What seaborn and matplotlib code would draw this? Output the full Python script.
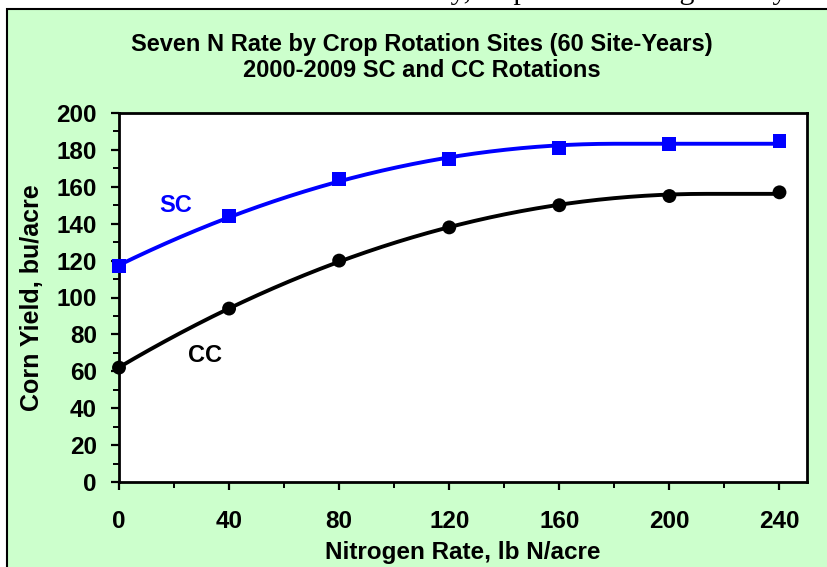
import numpy as np
import pandas as pd
import seaborn as sns
import matplotlib
matplotlib.use("Agg")
import matplotlib.pyplot as plt
from matplotlib.patches import Rectangle
from matplotlib.ticker import MultipleLocator

# ---- data ----
n_rate = [0, 40, 80, 120, 160, 200, 240]
sc_yield = [117, 144, 164, 175, 181, 183, 185]
cc_yield = [62, 94, 120, 138, 150, 155, 157]
series_names = ["SC", "CC"]
x_ticks = [0, 40, 80, 120, 160, 200, 240]
y_ticks = [0, 20, 40, 60, 80, 100, 120, 140, 160, 180, 200]
title_lines = ["Seven N Rate by Crop Rotation Sites (60 Site-Years)",
               "2000-2009 SC and CC Rotations"]
x_label = "Nitrogen Rate, lb N/acre"
y_label = "Corn Yield, bu/acre"
top_note = "Iowa State University, Department of Agronomy"


def quad_plateau_fit(x, y):
    x = np.asarray(x, float)
    y = np.asarray(y, float)
    best = None
    for x0 in np.arange(60, 250.5, 0.5):
        z = (x0 - np.minimum(x, x0)) ** 2
        A = np.column_stack([np.ones_like(z), -z])
        coef, *_ = np.linalg.lstsq(A, y, rcond=None)
        sse = np.sum((A @ coef - y) ** 2)
        if best is None or sse < best[0]:
            best = (sse, coef[0], coef[1], x0)
    _, P, k, x0 = best
    return lambda xx: P - k * (x0 - np.minimum(xx, x0)) ** 2


sns.set_theme(style="ticks")
plt.rcParams["font.family"] = ["Liberation Sans", "DejaVu Sans"]
plt.rcParams["font.weight"] = "bold"
for key in ["text.color", "axes.labelcolor", "xtick.color", "ytick.color",
            "axes.edgecolor"]:
    plt.rcParams[key] = "black"

fig = plt.figure(figsize=(8.28, 5.67), dpi=100)
fig.patch.set_facecolor("white")

W, H = 828, 567
# green panel with black border
fig.patches.append(Rectangle((7 / W, -0.05), 1.1, 1.05 - 9 / H,
                             transform=fig.transFigure, facecolor="#CCFFCC",
                             edgecolor="black", linewidth=1.5, zorder=-10))
fig.text(205 / W, 1 + 1.0 / H, top_note, ha="left", va="baseline",
         fontsize=21.5, family=["Liberation Serif", "DejaVu Serif"],
         fontweight="normal", color="black", zorder=-20)

ax = fig.add_axes([119 / W, 1 - 482 / H, 688 / W, 369 / H])
ax.set_zorder(5)
ax.set_facecolor("white")

df = pd.DataFrame({"N": n_rate * 2,
                   "Yield": sc_yield + cc_yield,
                   "Rotation": [series_names[0]] * len(n_rate) + [series_names[1]] * len(n_rate)})

xs = np.linspace(0, 240, 300)
curves = pd.DataFrame({
    "N": np.concatenate([xs, xs]),
    "Yield": np.concatenate([quad_plateau_fit(n_rate, sc_yield)(xs),
                             quad_plateau_fit(n_rate, cc_yield)(xs)]),
    "Rotation": [series_names[0]] * len(xs) + [series_names[1]] * len(xs)})

pal = {"SC": "#0000FF", "CC": "#000000"}
sns.lineplot(data=curves, x="N", y="Yield", hue="Rotation", palette=pal,
             linewidth=2.8, legend=False, ax=ax, zorder=3)
sns.scatterplot(data=df, x="N", y="Yield", hue="Rotation", style="Rotation",
                markers={"SC": "s", "CC": "o"}, palette=pal, s=100,
                edgecolor=None, linewidth=0, legend=False, ax=ax, zorder=4,
                clip_on=False)

ax.set_xlim(0, 250)
ax.set_ylim(0, 200)
ax.set_xticks(x_ticks)
ax.set_yticks(y_ticks)
ax.xaxis.set_minor_locator(MultipleLocator(20))
ax.yaxis.set_minor_locator(MultipleLocator(10))
ax.tick_params(axis="both", which="major", length=6, width=1.6, labelsize=17.5,
               color="black", labelcolor="black", direction="out")
ax.tick_params(axis="both", which="minor", length=4.5, width=1.4, color="black",
               direction="out")
ax.tick_params(axis="y", which="major", pad=10)
ax.tick_params(axis="x", which="major", pad=14)
for lab in ax.get_xticklabels() + ax.get_yticklabels():
    lab.set_fontweight("bold")
for s in ax.spines.values():
    s.set_visible(True)
    s.set_linewidth(2)
    s.set_color("black")

ax.set_xlabel(x_label, fontsize=17.5, fontweight="bold", labelpad=6, color="black")
ax.set_ylabel(y_label, fontsize=18, fontweight="bold", labelpad=9, color="black")

ax.text(20.4, 150, "SC", color="#0000FF", fontsize=17, fontweight="bold",
        ha="center", va="center")
ax.text(31.3, 68.8, "CC", color="black", fontsize=17, fontweight="bold",
        ha="center", va="center")

fig.text(422 / W, 1 - 44 / H, title_lines[0], ha="center", va="center",
         fontsize=17, fontweight="bold", color="black")
fig.text(422 / W, 1 - 70.5 / H, title_lines[1], ha="center", va="center",
         fontsize=17, fontweight="bold", color="black")

fig.savefig("out.png", dpi=100)
